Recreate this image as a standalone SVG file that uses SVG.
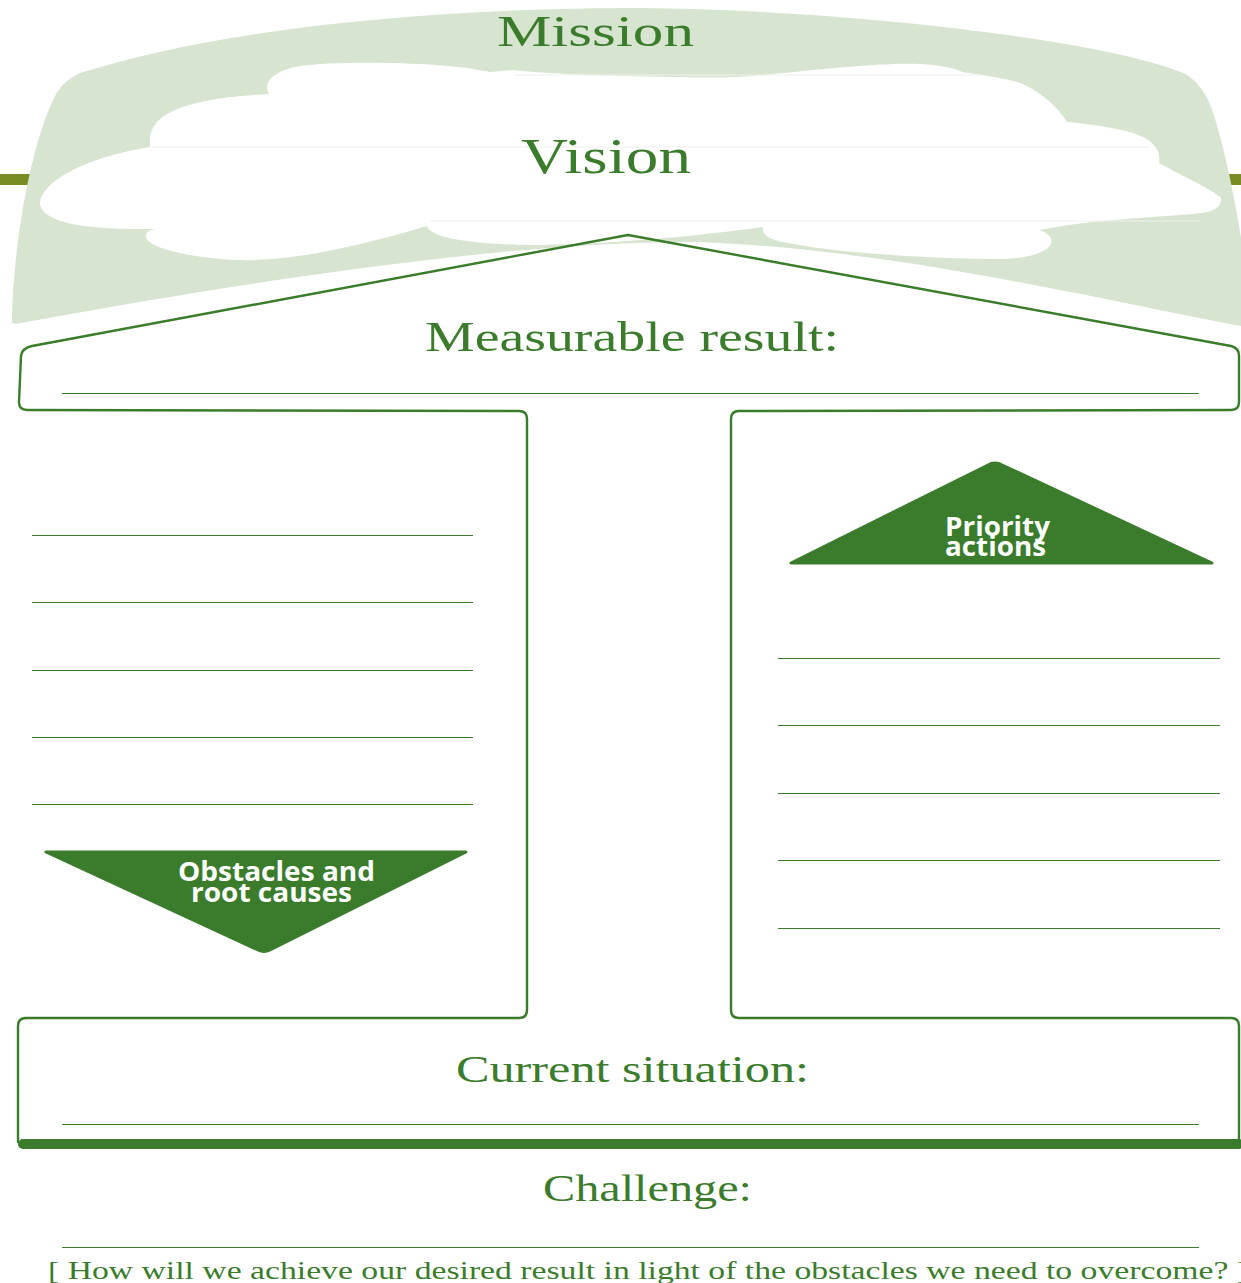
<svg xmlns="http://www.w3.org/2000/svg" width="1241" height="1283" viewBox="0 0 1241 1283">
  <style>
    .title { font-family: "Liberation Serif", "Times New Roman", serif; fill: #3a7c2c; }
    .tag { font-family: "Open Sans", "Noto Sans", sans-serif; font-weight: 700; fill: #ffffff; font-size: 26px; }
    .rule { stroke: #3a7c2c; stroke-width: 1; fill: none; shape-rendering: crispEdges; }
    .frame { stroke: #3a7c2c; stroke-width: 2.4; fill: none; stroke-linejoin: round; stroke-linecap: round; }
    .seam { stroke: #eef1ec; stroke-width: 1; fill: none; }
    .arrow { fill: #3a7c2c; stroke: #3a7c2c; stroke-width: 3; stroke-linejoin: round; }
  </style>

  <rect width="1241" height="1283" fill="#ffffff"/>

  <!-- olive band running behind the canopy -->
  <rect id="band" x="0" y="174" width="1241" height="11" fill="#778d24"/>

  <!-- pale green canopy (mission) -->
  <g id="mission">
    <path d="M 12,323 C 12,260 28,150 55,96 C 62,84 68,79 80,73 C 250,20 480,8 640,8 C 850,10 1100,40 1181,72 C 1200,80 1210,100 1216,122 C 1230,170 1241,230 1250,300 L 1260,330 L 1241,326 C 1100,300 900,250 700,242 C 500,240 200,290 16,324 Z" fill="#d7e4d0"/>
    <text class="title" x="497" y="46" font-size="44" textLength="197" lengthAdjust="spacingAndGlyphs">Mission</text>
  </g>

  <!-- white cloud (vision) -->
  <g id="vision">
    <path d="M 269,94 C 262,82 275,70 300,66 C 340,60 450,62 490,72 L 514,70 C 560,76 700,78 739,77 C 800,72 880,62 920,64 C 940,65 955,68 962,72 C 990,76 1015,80 1025,85 C 1045,95 1060,110 1067,122 C 1100,125 1130,130 1145,138 C 1160,146 1160,158 1159,163 C 1180,175 1210,188 1221,198 C 1222,208 1212,212 1201,213 C 1170,217 1100,218 1039,230 C 1055,235 1054,245 1045,250 C 1030,258 1015,259 990,259 C 920,258 820,252 775,240 C 765,237 762,232 763,227 C 700,236 600,245 530,245 C 470,244 430,238 427,226 C 380,240 300,262 237,260 C 190,258 150,248 146,238 C 145,232 150,230 155,229 C 80,230 45,222 40,205 C 38,185 80,158 150,147 C 148,120 165,100 269,94 Z" fill="#ffffff"/>
    <line class="seam" x1="514" y1="75" x2="980" y2="75"/>
    <line class="seam" x1="152" y1="147" x2="1150" y2="147"/>
    <line class="seam" x1="430" y1="221" x2="1200" y2="221"/>
    <text class="title" x="521" y="173" font-size="50" textLength="170" lengthAdjust="spacingAndGlyphs">Vision</text>
  </g>

  <!-- house-shaped frame -->
  <g id="connectors">
    <path class="frame" d="M 628,235 L 32,346 Q 22,348 21,356 L 19,402 Q 19,410 27,410 L 519,411 Q 527,411 527,419 L 527,1010 Q 527,1018 519,1018 L 26,1018 Q 18,1018 18,1026 L 18,1142"/>
    <path class="frame" d="M 628,235 L 1231,346 Q 1239,348 1239,356 L 1239,402 Q 1239,410 1231,410 L 739,411 Q 731,411 731,419 L 731,1010 Q 731,1018 739,1018 L 1231,1018 Q 1239,1018 1239,1026 L 1239,1142"/>
    <rect x="18" y="1139" width="1226" height="10" rx="5" fill="#3a7c2c"/>
  </g>

  <!-- measurable result -->
  <g id="result">
    <text class="title" x="425" y="351" font-size="42" textLength="414" lengthAdjust="spacingAndGlyphs">Measurable result:</text>
    <line class="rule" x1="62" y1="393.5" x2="1199" y2="393.5"/>
  </g>

  <!-- obstacles column -->
  <g id="obstacles">
    <line class="rule" x1="32" y1="535.5" x2="473" y2="535.5"/>
    <line class="rule" x1="32" y1="602.5" x2="473" y2="602.5"/>
    <line class="rule" x1="32" y1="670.5" x2="473" y2="670.5"/>
    <line class="rule" x1="32" y1="737.5" x2="473" y2="737.5"/>
    <line class="rule" x1="32" y1="804.5" x2="473" y2="804.5"/>
    <path class="arrow" d="M 46,852 L 466,852 L 270,950 Q 264,953 258,950 Z"/>
    <text class="tag" x="178" y="881" textLength="197" lengthAdjust="spacingAndGlyphs">Obstacles and</text>
    <text class="tag" x="191" y="902" textLength="161" lengthAdjust="spacingAndGlyphs">root causes</text>
  </g>

  <!-- priority actions column -->
  <g id="priorities">
    <path class="arrow" d="M 791,563 L 1212,563 L 1000,464 Q 995,462 990,464 Z"/>
    <text class="tag" x="945" y="536" textLength="105" lengthAdjust="spacingAndGlyphs">Priority</text>
    <text class="tag" x="945" y="556" textLength="101" lengthAdjust="spacingAndGlyphs">actions</text>
    <line class="rule" x1="778" y1="658.5" x2="1220" y2="658.5"/>
    <line class="rule" x1="778" y1="725.5" x2="1220" y2="725.5"/>
    <line class="rule" x1="778" y1="793.5" x2="1220" y2="793.5"/>
    <line class="rule" x1="778" y1="860.5" x2="1220" y2="860.5"/>
    <line class="rule" x1="778" y1="928.5" x2="1220" y2="928.5"/>
  </g>

  <!-- current situation -->
  <g id="current">
    <text class="title" x="456" y="1082" font-size="38" textLength="353" lengthAdjust="spacingAndGlyphs">Current situation:</text>
    <line class="rule" x1="62" y1="1124.5" x2="1199" y2="1124.5"/>
  </g>

  <!-- challenge -->
  <g id="challenge">
    <text class="title" x="543" y="1201" font-size="38" textLength="209" lengthAdjust="spacingAndGlyphs">Challenge:</text>
    <line class="rule" x1="62" y1="1247.5" x2="1199" y2="1247.5"/>
    <text class="title" x="48" y="1279" font-size="25" textLength="1200" lengthAdjust="spacingAndGlyphs">[ How will we achieve our desired result in light of the obstacles we need to overcome? ]</text>
  </g>
</svg>
